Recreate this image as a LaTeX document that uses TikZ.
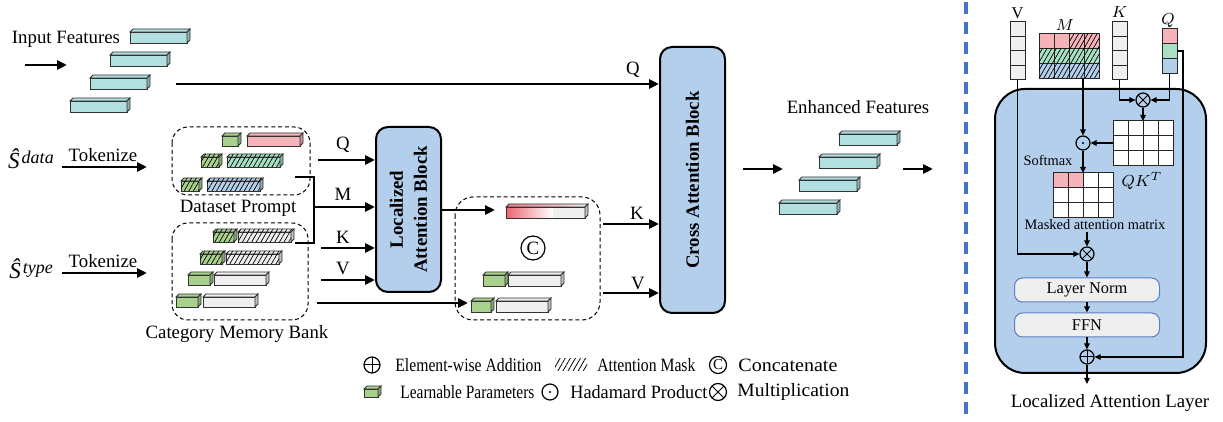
\documentclass[tikz,border=0pt]{standalone}
\usepackage{fontspec}
\usepackage{graphicx}
\setmainfont{Liberation Serif}
\usetikzlibrary{arrows.meta,patterns.meta,calc}
\definecolor{teal1}{HTML}{B2DFDF}
\definecolor{grn}{HTML}{A9D18E}
\definecolor{pnk}{HTML}{F6B3BA}
\definecolor{mint}{HTML}{A8E0C4}
\definecolor{lblue}{HTML}{B4CFEA}
\definecolor{blockblue}{HTML}{B3CFEB}
\definecolor{lgray}{HTML}{EFEFEF}
\definecolor{divblue}{HTML}{4472C4}
\definecolor{redgrad}{HTML}{EC6673}
\definecolor{lnborder}{HTML}{5B7FC0}
\newcommand\cuboid[6][]{%
  \filldraw[cubeline,fill=#6,#1] (#2,#3) rectangle ++(#4,#5);
  \filldraw[cubeline,fill=#6,#1] (#2,#3) -- ++(3,-3) -- ++(#4,0) -- ++(-3,3) -- cycle;
  \filldraw[cubeline,fill=#6!80!black] (#2+#4,#3) -- ++(3,-3) -- ++(0,#5) -- ++(-3,3) -- cycle;
}
\newcommand\shatlabel[1]{{\fontsize{11.5}{13}\selectfont\itshape Ŝ}\kern1pt\raisebox{0.6ex}{\fontsize{9}{10}\selectfont\itshape #1}}
\begin{document}
\begin{tikzpicture}[x=0.5pt,y=-0.5pt,
  arr/.style={line width=1.3pt,-{Triangle[length=5pt,width=4.5pt]}},
  plain/.style={line width=1.3pt,line join=miter},
  tarr/.style={line width=0.6pt,-{Triangle[length=3pt,width=2.8pt]}},
  block/.style={draw,line width=1pt,fill=blockblue,rounded corners=6pt,inner sep=0pt},
  dbox/.style={draw,dash pattern=on 2pt off 1.4pt,line width=0.5pt,rounded corners=8pt},
  cubeline/.style={line width=0.4pt,draw=black!80},
  cellline/.style={line width=0.5pt,draw=black!85},
  hatch/.style={postaction={pattern={Lines[angle=60,distance=2pt,line width=0.35pt]}}},
  t94/.style={font=\fontsize{9.4}{11.3}\selectfont,inner sep=0pt},
  t94b/.style={font=\fontsize{9.4}{12}\selectfont\bfseries,inner sep=0pt},
  t8/.style={font=\fontsize{8.2}{10}\selectfont,inner sep=0pt},
  t7/.style={font=\fontsize{7.2}{8.6}\selectfont,inner sep=0pt},
  op/.style={circle,draw,line width=0.6pt,minimum size=7pt,inner sep=0pt},
  oplus/.style={op,path picture={\draw[line width=0.5pt] (path picture bounding box.north) -- (path picture bounding box.south) (path picture bounding box.west) -- (path picture bounding box.east);}},
  otimes/.style={op,path picture={\draw[line width=0.5pt] (path picture bounding box.north west) -- (path picture bounding box.south east) (path picture bounding box.north east) -- (path picture bounding box.south west);}},
  odot/.style={op,path picture={\fill (path picture bounding box.center) circle[radius=0.55pt];}},
  lnbox/.style={draw=lnborder,line width=0.5pt,fill=lgray,rounded corners=4pt,minimum width=72.5pt,minimum height=12pt,inner sep=0pt,t8},
]
\useasboundingbox (0,0) rectangle (1223,422);

% ---------------- input features
\node[t94] (inlbl) at (66,39) {Input Features};
\foreach \i in {0,...,3} {\cuboid{130-20*\i}{32+23*\i}{57}{11}{teal1}}
\coordinate (inS) at (25,65); \coordinate (inE) at (67,65);
\draw[arr] (inS) -- (inE);

% ---------------- S hat labels
\node[inner sep=0pt] (sdata) at (31,159) {\shatlabel{data}};
\node[inner sep=0pt] (stype) at (31,269) {\shatlabel{type}};
\node[t94] (tok1) at (103,155) {Tokenize};
\node[t94] (tok2) at (103,261) {Tokenize};
\coordinate (t1s) at (62,167); \coordinate (t1e) at (147,167);
\coordinate (t2s) at (62,273); \coordinate (t2e) at (147,273);
\draw[arr] (t1s) -- (t1e);
\draw[arr] (t2s) -- (t2e);

% ---------------- dataset prompt
\draw[dbox] (172,127) rectangle (310,195);
\node[t94] (dpl) at (238,208) {Dataset Prompt};
\cuboid{222}{136}{16}{10}{grn}
\cuboid{247}{136}{53}{10}{pnk}
\cuboid[hatch]{201}{157}{18}{10}{grn}
\cuboid[hatch]{227}{157}{53}{10}{mint}
\cuboid[hatch]{181}{181}{18}{10}{grn}
\cuboid[hatch]{207}{181}{53}{10}{lblue}

% ---------------- category memory bank
\draw[dbox] (172,223) rectangle (308,320);
\node[t94] (cmbl) at (237,334) {Category Memory Bank};
\cuboid[hatch]{213}{232}{21}{10}{grn}
\cuboid[hatch]{238}{232}{53}{10}{lgray}
\cuboid[hatch]{200}{254}{22}{10}{grn}
\cuboid[hatch]{226}{254}{53}{10}{lgray}
\cuboid{188}{275}{22}{10}{grn}
\cuboid{214}{275}{52}{10}{lgray}
\cuboid{176}{297}{22}{10}{grn}
\cuboid{203}{297}{52}{10}{lgray}

% ---------------- localized attention block
\node[block,minimum width=32.5pt,minimum height=82.5pt] (lab) at (408.5,209.5) {};
\node[rotate=90,align=center,t94b] (labt) at (lab.center) {Localized\\Attention Block};
\coordinate (b1) at (295,177); \coordinate (b2) at (295,243);
\coordinate (bc1) at (314,177); \coordinate (bc2) at (314,243);
\draw[plain] (b1) -- (bc1) -- (bc2) -- (b2);
\coordinate (lq) at (318,160); \coordinate (lm) at (314,207);
\coordinate (lk) at (321,248); \coordinate (lv) at (321,280);
\draw[arr] (lq) -- (lq -| lab.west);
\draw[arr] (lm) -- (lm -| lab.west);
\draw[arr] (lk) -- (lk -| lab.west);
\draw[arr] (lv) -- (lv -| lab.west);
\node[t94] (lql) at (343,145) {Q};
\node[t94] (lml) at (343,194) {M};
\node[t94] (lkl) at (343,237) {K};
\node[t94] (lvl) at (343,268) {V};

% ---------------- concat box
\draw[dbox,rounded corners=9pt] (455,197) rectangle (600,320);
\shade[left color=redgrad,right color=white] (506,207) rectangle (553,218);
\fill[lgray] (553,207) rectangle (585,218);
\draw[cubeline] (506,207) rectangle (585,218);
\shade[left color=redgrad!85!white,right color=lgray] (506,207) -- ++(3,-3) -- ++(79,0) -- ++(-3,3) -- cycle;
\draw[cubeline] (506,207) -- ++(3,-3) -- ++(79,0) -- ++(-3,3) -- cycle;
\filldraw[cubeline,fill=lgray!80!black] (585,207) -- ++(3,-3) -- ++(0,11) -- ++(-3,3) -- cycle;
\node[op,minimum size=12pt,t94] (cc) at (533,248) {C};
\cuboid{483}{275}{22}{11}{grn}
\cuboid{508}{275}{53}{11}{lgray}
\cuboid{471}{301}{20}{11}{grn}
\cuboid{496}{301}{52}{11}{lgray}
\coordinate (lo) at (495,210);
\draw[arr] (lab.east |- lo) -- (lo);
\coordinate (mbs) at (317,303); \coordinate (mbe) at (468,303);
\draw[arr] (mbs) -- (mbe);

% ---------------- cross attention block
\node[block,minimum width=32.5pt,minimum height=133pt] (cab) at (692.5,180) {};
\node[rotate=90,t94b] (cabt) at (cab.center) {Cross Attention Block};
\coordinate (cq) at (176,84); \coordinate (ck) at (603,224); \coordinate (cv) at (603,293);
\draw[arr] (cq) -- (cq -| cab.west);
\draw[arr] (ck) -- (ck -| cab.west);
\draw[arr] (cv) -- (cv -| cab.west);
\node[t94] (cql) at (633,70) {Q};
\node[t94] (ckl) at (637,213) {K};
\node[t94] (cvl) at (638,283) {V};

% ---------------- enhanced features
\node[t94] (enl) at (858,107) {Enhanced Features};
\foreach \i in {0,...,3} {\cuboid{839-20*\i}{134+23*\i}{58}{11}{teal1}}
\coordinate (e1s) at (743,169); \coordinate (e1e) at (783,169);
\coordinate (e2s) at (903,169); \coordinate (e2e) at (933,169);
\draw[arr] (e1s) -- (e1e);
\draw[arr] (e2s) -- (e2e);

% ---------------- divider
\coordinate (dvt) at (966,2); \coordinate (dvb) at (966,422);
\draw[divblue,line width=1.6pt,dash pattern=on 6pt off 4pt] (dvt) -- (dvb);

% ---------------- right panel
\node[draw,line width=1pt,fill=blockblue,rounded corners=15pt,minimum width=105.5pt,minimum height=142pt,inner sep=0pt] (lal) at (1100.5,231) {};
% V column
\foreach \r in {0,...,3} {\filldraw[cellline,fill=lgray] (1010,22+14.5*\r) rectangle ++(15,14.5);}
\node[t8] (vlab) at (1017.5,13) {V};
% K column
\foreach \r in {0,...,3} {\filldraw[cellline,fill=lgray] (1112,22+14.5*\r) rectangle ++(15,14.5);}
\node[t8] (klab) at (1119.5,12) {$K$};
% Q column
\foreach \r/\cl in {0/pnk,1/mint,2/lblue} {\filldraw[cellline,fill=\cl] (1162,29+14.67*\r) rectangle ++(15,14.67);}
\node[t8] (qlab) at (1168,21) {$Q$};
% M matrix
\foreach \r/\cl in {0/pnk,1/mint,2/lblue} {\foreach \c in {0,...,3} {\filldraw[cellline,fill=\cl] (1039+15*\c,34+14.67*\r) rectangle ++(15,14.67);}}
\fill[pattern={Lines[angle=60,distance=2pt,line width=0.35pt]}] (1069,34) rectangle (1099,48.67);
\fill[pattern={Lines[angle=60,distance=2pt,line width=0.35pt]}] (1039,48.67) rectangle (1099,78);
\node[t8] (mlab) at (1065,25) {$M$};

\coordinate (Vb) at (1017.5,80); \coordinate (Mb) at (1083,78);
\coordinate (Kb) at (1119.5,80); \coordinate (Qb) at (1169.5,73);
\coordinate (Qr) at (1177,51); \coordinate (Qc) at (1183,51);

\node[otimes] (mul1) at (1143,100) {};
\node[odot] (had) at (1083,143) {};
\node[otimes] (mul2) at (1087,254) {};
\node[oplus] (add) at (1087,357) {};

% QK^T matrix
\foreach \r in {0,...,2} {\foreach \c in {0,...,3} {\filldraw[cellline,fill=white] (1113+15*\c,121+15*\r) rectangle ++(15,15);}}
\node[t8] (qklab) at (1142,181) {$QK^T$};
\coordinate (QKt) at (1143,121); \coordinate (QKl) at (1113,143);

% masked matrix
\foreach \r in {0,...,2} {\foreach \c in {0,...,3} {\filldraw[cellline,fill=white] (1053+15*\c,173+15*\r) rectangle ++(15,15);}}
\filldraw[cellline,fill=pnk] (1053,173) rectangle ++(15,15);
\filldraw[cellline,fill=pnk] (1068,173) rectangle ++(15,15);
\coordinate (MAt) at (1083,173);
\node[t7] (smx) at (1048,161) {Softmax};
\node[t7] (mal) at (1095,225) {Masked attention matrix};
\coordinate (mala) at (1087,232);

\node[lnbox] (ln) at (1087,290) {Layer Norm};
\node[lnbox] (ffn) at (1087,325) {FFN};
\coordinate (outb) at (1087,384);

\draw[tarr] (Kb) |- (mul1.west);
\draw[tarr] (Qb) |- (mul1.east);
\draw[tarr] (mul1.south) -- (QKt);
\draw[tarr] (QKl) -- (had.east);
\draw[tarr] (Mb) -- (had.north);
\draw[tarr] (had.south) -- (MAt);
\draw[tarr] (mala) -- (mul2.north);
\draw[tarr] (Vb) |- (mul2.west);
\draw[tarr] (mul2.south) -- (ln.north);
\draw[tarr] (ln.south) -- (ffn.north);
\draw[tarr] (ffn.south) -- (add.north);
\draw[tarr] (Qr) -- (Qc) |- (add.east);
\draw[tarr] (add.south) -- (outb);
\node[t94] (lall) at (1110,403) {Localized Attention Layer};

% ---------------- legend
\node[oplus,minimum size=8pt] (lg1) at (372,365) {};
\node[t94,anchor=west] (lg1t) at (395,365) {\resizebox{73pt}{\height}{Element-wise Addition}};
\fill[pattern={Lines[angle=60,distance=2.2pt,line width=0.4pt]}] (555,359) rectangle (587,371);
\node[t94,anchor=west] (lg2t) at (597,365) {\resizebox{49pt}{\height}{Attention Mask}};
\node[op,minimum size=8.5pt,font=\fontsize{7.5}{9}\selectfont] (lg3) at (718,365) {C};
\node[t94,anchor=west] (lg3t) at (738,365) {\resizebox{49.5pt}{\height}{Concatenate}};
\cuboid{364}{389}{14}{8}{grn}
\node[t94,anchor=west] (lg4t) at (400,392) {\resizebox{67pt}{\height}{Learnable Parameters}};
\node[odot,minimum size=8pt] (lg5) at (550,392) {};
\node[t94,anchor=west] (lg5t) at (570,392) {\resizebox{68.5pt}{\height}{Hadamard Product}};
\node[otimes,minimum size=8.5pt] (lg6) at (718,392) {};
\node[t94,anchor=west] (lg6t) at (737,392) {\resizebox{56pt}{\height}{Multiplication}};
\end{tikzpicture}
\end{document}
